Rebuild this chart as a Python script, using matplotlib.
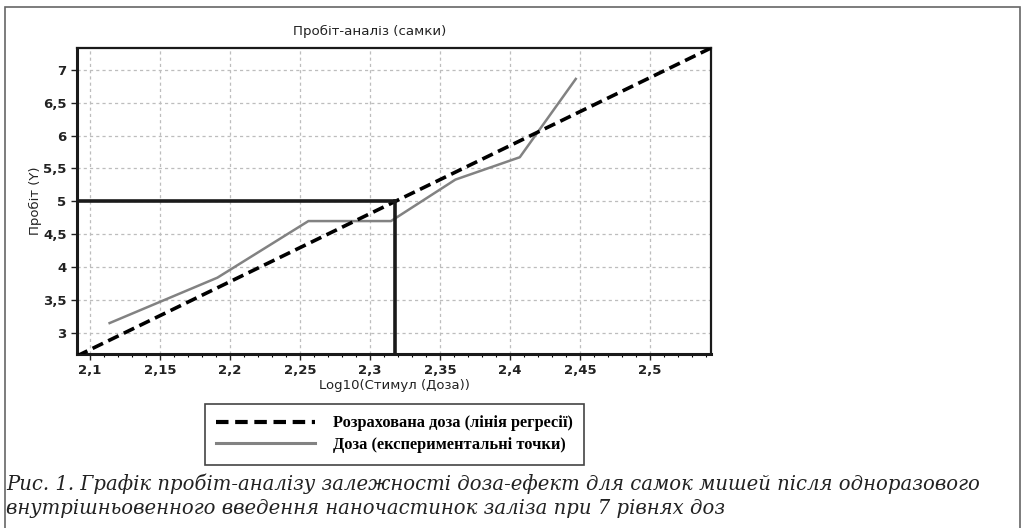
import matplotlib.pyplot as plt
from matplotlib.lines import Line2D
from matplotlib.patches import Rectangle
from matplotlib.ticker import MultipleLocator, FuncFormatter

# experimental points (log10 dose, probit)
dose_log = [2.114, 2.191, 2.256, 2.315, 2.361, 2.407, 2.447]
probit = [3.15, 3.84, 4.70, 4.70, 5.33, 5.67, 6.86]

# regression line end points
reg_x = [2.0907, 2.5436]
reg_y = [2.65, 7.33]

# LD50
ld50_x = 2.318
ld50_y = 5.0

x_limits = (2.0907, 2.5436)
y_limits = (2.68, 7.33)

title = "Пробіт-аналіз (самки)"
x_label = "Log10(Стимул (Доза))"
y_label = "Пробіт (Y)"
legend_labels = ["Розрахована доза (лінія регресії)", "Доза (експериментальні точки)"]
caption = ["Рис. 1. Графік пробіт-аналізу залежності доза-ефект для самок мишей після одноразового",
           "внутрішньовенного введення наночастинок заліза при 7 рівнях доз"]


def comma(v, pos):
    s = f"{v:.2f}".rstrip("0").rstrip(".")
    return s.replace(".", ",")


def main() -> None:
    fig = plt.figure(figsize=(10.27, 5.28), dpi=100)
    ax = fig.add_axes([77 / 1027, 1 - 354 / 528, 634 / 1027, 306 / 528])

    ax.plot(reg_x, reg_y, color="black", lw=2.6, ls=(0, (3.2, 1.6)), zorder=3)
    ax.plot(dose_log, probit, color="#828282", lw=1.8, zorder=2)
    ax.plot([x_limits[0], ld50_x], [ld50_y, ld50_y], color="#1a1a1a", lw=2.6, zorder=4)
    ax.plot([ld50_x, ld50_x], [y_limits[0], ld50_y], color="#1a1a1a", lw=2.6, zorder=4)

    ax.set_xlim(*x_limits)
    ax.set_ylim(*y_limits)
    ax.xaxis.set_major_locator(MultipleLocator(0.05))
    ax.xaxis.set_minor_locator(MultipleLocator(0.01))
    ax.yaxis.set_major_locator(MultipleLocator(0.5))
    ax.xaxis.set_major_formatter(FuncFormatter(comma))
    ax.yaxis.set_major_formatter(FuncFormatter(comma))
    ax.tick_params(axis="both", labelsize=9.5, colors="#222222", length=4, width=1)
    ax.tick_params(axis="x", which="minor", length=2.5, width=0.8)
    for lab in ax.get_xticklabels() + ax.get_yticklabels():
        lab.set_fontweight("bold")
    ax.grid(True, which="major", color="#bdbdbd", ls=(0, (2.5, 2.5)), lw=0.9)

    for side in ["left", "bottom"]:
        ax.spines[side].set_linewidth(2.2)
    for side in ["top", "right"]:
        ax.spines[side].set_linewidth(1.6)
    for s in ax.spines.values():
        s.set_color("#1a1a1a")

    ax.set_title(title, fontsize=9.6, x=(370 - 77) / 634, pad=9, color="#222222")
    ax.set_xlabel(x_label, fontsize=9.5, labelpad=1, color="#222222")
    ax.set_ylabel(y_label, fontsize=9.5, labelpad=1, color="#222222")

    handles = [Line2D([], [], color="black", lw=3, ls=(0, (3, 1.6))),
               Line2D([], [], color="#828282", lw=2.2)]
    leg = fig.legend(handles, legend_labels, loc="upper left",
                     bbox_to_anchor=(205 / 1027, 1 - 404 / 528),
                     prop={"family": "Liberation Serif", "weight": "bold", "size": 11.8},
                     handlelength=6.0, handletextpad=1.1, labelspacing=0.35,
                     borderpad=0.7, borderaxespad=0, fancybox=False, framealpha=1,
                     edgecolor="#444444")
    leg.get_frame().set_linewidth(1.2)

    for i, line in enumerate(caption):
        fig.text(6 / 1027, 1 - (484 + i * 24) / 528, line, fontsize=14.1,
                 family="DejaVu Serif", style="italic", va="center", color="#222222")

    fig.add_artist(Rectangle((5 / 1027, -0.02), 1015 / 1027, 1.02 - 7 / 528,
                             transform=fig.transFigure, fill=False,
                             edgecolor="#666666", lw=1.2))

    fig.savefig("out.png", dpi=100)


if __name__ == "__main__":
    main()
